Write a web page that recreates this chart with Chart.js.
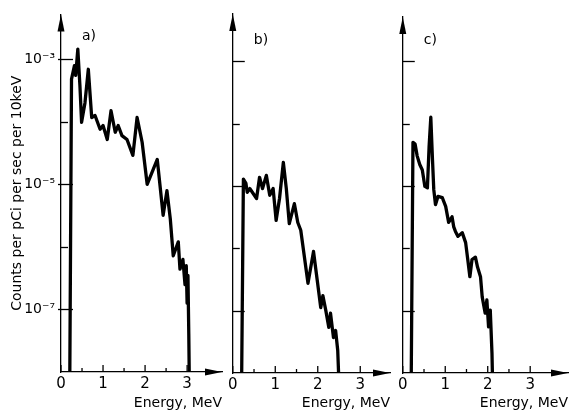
<!DOCTYPE html>
<html>
<head>
<meta charset="utf-8">
<script src="https://cdn.jsdelivr.net/npm/chart.js@4.4.0/dist/chart.umd.min.js"></script>
<style>
  html, body { margin: 0; padding: 0; background: #fff; }
  #wrap { position: relative; width: 569px; height: 415px; overflow: hidden; }
  #wrap canvas { position: absolute; top: 0; }
</style>
</head>
<body>
<div id="wrap">
  <canvas id="chartA" width="225" height="415" style="left:0px"></canvas>
  <canvas id="chartB" width="170" height="415" style="left:225px"></canvas>
  <canvas id="chartC" width="174" height="415" style="left:395px"></canvas>
</div>
<script>
// a) spectrum
var energyA = [0.21,0.25,0.32,0.35,0.40,0.45,0.49,0.57,0.65,0.73,0.81,0.93,1.00,1.10,1.19,1.29,1.36,1.45,1.57,1.71,1.81,1.93,2.05,2.29,2.43,2.52,2.60,2.67,2.79,2.83,2.90,2.95,2.98,3.00,3.02,3.04,3.05];
var countsA = [1e-8,4.8e-4,7.9e-4,5.5e-4,1.45e-3,3.8e-4,9.8e-5,2.0e-4,6.9e-4,1.17e-4,1.26e-4,7.6e-5,8.7e-5,5.2e-5,1.5e-4,6.8e-5,8.7e-5,6.0e-5,5.2e-5,2.9e-5,1.17e-4,4.7e-5,1.0e-5,2.5e-5,3.2e-6,7.9e-6,2.8e-6,7.2e-7,1.2e-6,4.4e-7,6.3e-7,2.5e-7,5.0e-7,1.26e-7,3.5e-7,4.0e-8,1e-8];

// b) spectrum
var energyB = [0.21,0.25,0.31,0.34,0.40,0.48,0.56,0.63,0.70,0.79,0.87,0.95,1.02,1.10,1.19,1.26,1.33,1.45,1.53,1.60,1.77,1.90,1.99,2.07,2.12,2.19,2.26,2.30,2.37,2.42,2.47,2.49];
var countsB = [1e-8,1.29e-5,1.10e-5,7.9e-6,9.1e-6,7.6e-6,6.3e-6,1.38e-5,9.1e-6,1.48e-5,7.1e-6,9.1e-6,2.8e-6,6.3e-6,2.4e-5,9.1e-6,2.5e-6,5.2e-6,2.6e-6,1.95e-6,2.75e-7,8.9e-7,3.0e-7,1.12e-7,1.74e-7,1.0e-7,5.4e-8,9.1e-8,3.7e-8,4.8e-8,2.3e-8,1e-8];

// c) spectrum
var energyC = [0.20,0.24,0.29,0.34,0.40,0.46,0.52,0.58,0.62,0.66,0.70,0.73,0.77,0.83,0.93,1.01,1.08,1.16,1.20,1.24,1.30,1.40,1.48,1.53,1.58,1.63,1.71,1.76,1.83,1.87,1.94,1.98,2.02,2.06,2.10,2.11];
var countsC = [1e-8,5.0e-5,4.7e-5,3.0e-5,2.2e-5,1.8e-5,9.8e-6,9.3e-6,4.3e-5,1.26e-4,2.6e-5,8.7e-6,5.0e-6,6.8e-6,6.5e-6,4.7e-6,2.6e-6,3.2e-6,2.2e-6,1.86e-6,1.55e-6,1.78e-6,1.23e-6,6.6e-7,3.5e-7,6.6e-7,7.2e-7,5.0e-7,3.5e-7,1.66e-7,9.1e-8,1.48e-7,5.5e-8,1.02e-7,2.1e-8,1e-8];

// axes
var xTicks = [0, 1, 2, 3];
var xTickLabels = ['0', '1', '2', '3'];
var xMinorTicks = [0.5, 1.5, 2.5];
var yTicks = [1e-3, 1e-4, 1e-5, 1e-6, 1e-7];
var yTickLabels = ['10\u207B\u00B3', '', '10\u207B\u2075', '', '10\u207B\u2077'];
var yLongTicks = [1e-3, 1e-5, 1e-7];
var xTitle = 'Energy, MeV';
var yTitle = 'Counts per pCi per sec per 10keV';

var FONT = '"DejaVu Sans", sans-serif';

// arrows, inside ticks, panel letter
var decor = {
  id: 'decor',
  afterDraw: function(chart, args, opts) {
    var ctx = chart.ctx, a = chart.chartArea;
    var xs = chart.scales.x, ys = chart.scales.y;
    ctx.save();
    ctx.strokeStyle = '#000';
    ctx.fillStyle = '#000';
    ctx.lineWidth = 1.3;
    ys.ticks.forEach(function(t) {
      var py = Math.round(ys.getPixelForValue(t.value)) + 0.5;
      var isLong = yLongTicks.indexOf(t.value) >= 0;
      ctx.beginPath();
      ctx.moveTo(a.left - (isLong && opts.labels ? 3 : 0), py);
      ctx.lineTo(a.left + (isLong ? 12 : 7), py);
      ctx.stroke();
    });
    xs.ticks.forEach(function(t) {
      var px = xs.getPixelForValue(t.value);
      ctx.beginPath();
      ctx.moveTo(px, a.bottom);
      ctx.lineTo(px, a.bottom - 7);
      ctx.stroke();
    });
    xMinorTicks.forEach(function(v) {
      var px = xs.getPixelForValue(v);
      ctx.beginPath();
      ctx.moveTo(px, a.bottom);
      ctx.lineTo(px, a.bottom - 4);
      ctx.stroke();
    });
    // y arrow
    ctx.beginPath();
    ctx.moveTo(a.left, a.top);
    ctx.lineTo(a.left - 3.5, a.top + 17);
    ctx.lineTo(a.left + 3.5, a.top + 17);
    ctx.closePath();
    ctx.fill();
    // x arrow
    ctx.beginPath();
    ctx.moveTo(a.right, a.bottom);
    ctx.lineTo(a.right - 17, a.bottom - 3.5);
    ctx.lineTo(a.right - 17, a.bottom + 3.5);
    ctx.closePath();
    ctx.fill();
    ctx.font = '14px ' + FONT;
    ctx.textBaseline = 'middle';
    ctx.textAlign = 'left';
    ctx.fillText(opts.letter, a.left + 21, opts.letterY);
    ctx.restore();
  }
};

function makeChart(id, energy, counts, cfg) {
  var pts = energy.map(function(e, i) { return { x: e, y: counts[i] }; });
  return new Chart(document.getElementById(id), {
    type: 'line',
    data: {
      datasets: [{
        data: pts,
        borderColor: '#000',
        borderWidth: 3.3,
        pointRadius: 0,
        tension: 0,
        fill: false,
        borderJoinStyle: 'round'
      }]
    },
    options: {
      responsive: false,
      animation: false,
      events: [],
      layout: { padding: { top: cfg.top, right: cfg.right, left: 0, bottom: 0 } },
      plugins: {
        legend: { display: false },
        tooltip: { enabled: false },
        decor: { letter: cfg.letter, letterY: cfg.letterY, labels: cfg.labels }
      },
      scales: {
        x: {
          type: 'linear',
          min: 0,
          max: cfg.xmax,
          grid: { display: false, drawTicks: false },
          border: { color: '#000', width: 1.3 },
          afterBuildTicks: function(s) { s.ticks = xTicks.map(function(v) { return { value: v }; }); },
          ticks: {
            padding: 3,
            color: '#000',
            maxRotation: 0,
            autoSkip: false,
            font: { family: FONT, size: 15 },
            callback: function(v, i) { return xTickLabels[i]; }
          },
          title: {
            display: true,
            text: xTitle,
            align: 'end',
            color: '#000',
            font: { family: FONT, size: 14 },
            padding: { top: 0, bottom: 3 }
          },
          afterFit: function(s) { s.height = cfg.xh; }
        },
        y: {
          type: 'logarithmic',
          min: 1e-8,
          max: cfg.ymax,
          grid: { display: false, drawTicks: false },
          border: { color: '#000', width: 1.3 },
          afterBuildTicks: function(s) { s.ticks = yTicks.map(function(v) { return { value: v }; }); },
          ticks: {
            display: cfg.labels,
            padding: 6,
            color: '#000',
            autoSkip: false,
            font: { family: FONT, size: 14 },
            callback: function(v, i) { return yTickLabels[i]; }
          },
          title: {
            display: cfg.labels,
            text: yTitle,
            color: '#000',
            font: { family: FONT, size: 14 },
            padding: { top: 9, bottom: 0 }
          },
          afterFit: function(s) { s.width = cfg.yw; }
        }
      }
    },
    plugins: [decor]
  });
}

makeChart('chartA', energyA, countsA, { top: 13, right: 3, xh: 43, yw: 61, xmax: 3.83, ymax: 5.2e-3, letter: 'a)', letterY: 36, labels: true });
makeChart('chartB', energyB, countsB, { top: 14, right: 5, xh: 42, yw: 7, xmax: 3.70, ymax: 5.75e-3, letter: 'b)', letterY: 40, labels: false });
makeChart('chartC', energyC, countsC, { top: 17, right: 1, xh: 42, yw: 7, xmax: 3.89, ymax: 5.1e-3, letter: 'c)', letterY: 40, labels: false });
</script>
</body>
</html>
